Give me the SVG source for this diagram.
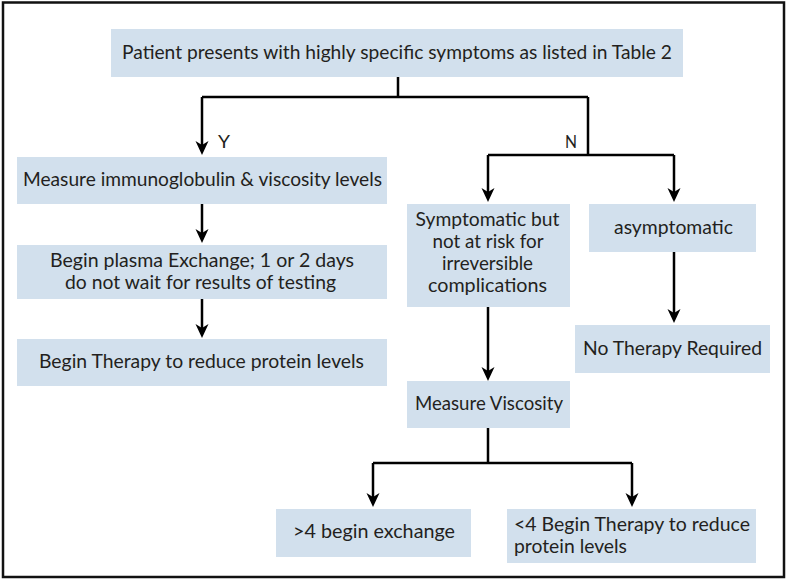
<svg xmlns="http://www.w3.org/2000/svg" width="787" height="580" viewBox="0 0 787 580">
<style>
.box{fill:#d2e0ed;}
.t{font-family:"Lato","Liberation Sans",sans-serif;font-size:19px;fill:#231f20;text-anchor:middle;}
.tl{font-family:"Lato","Liberation Sans",sans-serif;font-size:19px;fill:#231f20;}
.lbl{font-family:"Lato","Liberation Sans",sans-serif;font-size:18px;fill:#231f20;}
.c{fill:none;stroke:#000;stroke-width:2.5;}
.a{marker-end:url(#ah);}
</style>
<defs>
<marker id="ah" viewBox="0 0 14 15" refX="9" refY="7" markerWidth="14" markerHeight="15" orient="auto" markerUnits="userSpaceOnUse">
<path d="M0,0.5 L14,7 L0,13.5 L4,7 z" fill="#000"/>
</marker>
</defs>
<rect x="3" y="2.5" width="781" height="574.5" fill="#fff" stroke="#111" stroke-width="2.5"/>

<g id="connectors">
<path class="c" d="M398,77 V97 M202,97 H588"/>
<path class="c a" d="M202,97 V150"/>
<path class="c" d="M588,97 V155 M488,155 H674"/>
<path class="c a" d="M488,155 V197"/>
<path class="c a" d="M674,155 V197"/>
<path class="c a" d="M202,204 V238"/>
<path class="c a" d="M202,299 V333"/>
<path class="c a" d="M488,307 V376"/>
<path class="c a" d="M674,252 V318"/>
<path class="c" d="M488,428 V463 M373,463 H632"/>
<path class="c a" d="M373,463 V502"/>
<path class="c a" d="M632,463 V502"/>
<text class="lbl" x="218" y="148" textLength="12" lengthAdjust="spacingAndGlyphs">Y</text>
<text class="lbl" x="565" y="148" textLength="12" lengthAdjust="spacingAndGlyphs">N</text>
</g>

<g id="n-top">
<rect class="box" x="111" y="29" width="572" height="48"/>
<text class="t" x="397" y="59" textLength="550" lengthAdjust="spacingAndGlyphs">Patient presents with highly specific symptoms as listed in Table 2</text>
</g>
<g id="n-measure-ig">
<rect class="box" x="17" y="157" width="370" height="47"/>
<text class="t" x="202.5" y="186" textLength="359" lengthAdjust="spacingAndGlyphs">Measure immunoglobulin &amp; viscosity levels</text>
</g>
<g id="n-plasma">
<rect class="box" x="17" y="245" width="370" height="54"/>
<text class="t" x="202" y="267" textLength="304" lengthAdjust="spacingAndGlyphs">Begin plasma Exchange; 1 or 2 days</text>
<text class="t" x="200.5" y="289" textLength="271" lengthAdjust="spacingAndGlyphs">do not wait for results of testing</text>
</g>
<g id="n-therapy-left">
<rect class="box" x="17" y="339" width="370" height="47"/>
<text class="t" x="201.5" y="368" textLength="325" lengthAdjust="spacingAndGlyphs">Begin Therapy to reduce protein levels</text>
</g>
<g id="n-symptomatic">
<rect class="box" x="407" y="204" width="163" height="103"/>
<text class="t" x="487.5" y="226" textLength="144" lengthAdjust="spacingAndGlyphs">Symptomatic but</text>
<text class="t" x="488" y="248" textLength="111" lengthAdjust="spacingAndGlyphs">not at risk for</text>
<text class="t" x="487.5" y="270" textLength="91" lengthAdjust="spacingAndGlyphs">irreversible</text>
<text class="t" x="487.5" y="292" textLength="119" lengthAdjust="spacingAndGlyphs">complications</text>
</g>
<g id="n-asymptomatic">
<rect class="box" x="589" y="204" width="167" height="48"/>
<text class="t" x="673.5" y="234" textLength="119" lengthAdjust="spacingAndGlyphs">asymptomatic</text>
</g>
<g id="n-no-therapy">
<rect class="box" x="575" y="325" width="195" height="48"/>
<text class="t" x="672.5" y="355" textLength="179" lengthAdjust="spacingAndGlyphs">No Therapy Required</text>
</g>
<g id="n-measure-visc">
<rect class="box" x="407" y="381" width="163" height="47"/>
<text class="t" x="489" y="410" textLength="148" lengthAdjust="spacingAndGlyphs">Measure Viscosity</text>
</g>
<g id="n-gt4">
<rect class="box" x="276" y="509" width="195" height="48"/>
<text class="t" x="374" y="538" textLength="162" lengthAdjust="spacingAndGlyphs">&gt;4 begin exchange</text>
</g>
<g id="n-lt4">
<rect class="box" x="507" y="509" width="249" height="54"/>
<text class="tl" x="514" y="531" textLength="236" lengthAdjust="spacingAndGlyphs">&lt;4 Begin Therapy to reduce</text>
<text class="tl" x="514" y="553" textLength="113" lengthAdjust="spacingAndGlyphs">protein levels</text>
</g>
</svg>
